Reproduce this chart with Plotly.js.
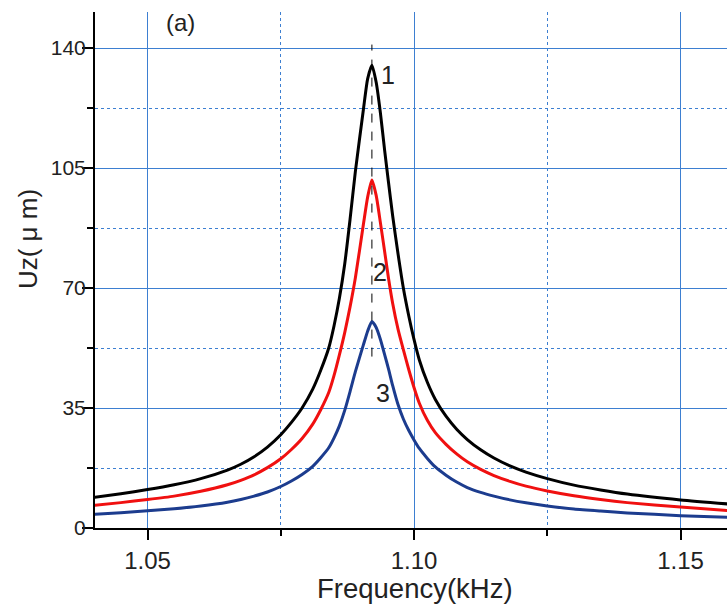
<!DOCTYPE html>
<html>
<head>
<meta charset="utf-8">
<script src="https://cdn.plot.ly/plotly-3.0.1.min.js"></script>
<style>
  html, body { margin: 0; padding: 0; background: #ffffff; }
  #chart { width: 727px; height: 606px; }
</style>
</head>
<body>
<div id="chart"></div>
<script>
// ---- data ----
const freq = [1.040, 1.045, 1.050, 1.055, 1.060, 1.065, 1.0675, 1.070, 1.0725, 1.075, 1.077, 1.079, 1.081, 1.0825, 1.084, 1.085, 1.086, 1.087, 1.088, 1.089, 1.0905, 1.0913, 1.0921, 1.0929, 1.0937, 1.0945, 1.0952, 1.096, 1.097, 1.098, 1.099, 1.100, 1.101, 1.1025, 1.104, 1.106, 1.108, 1.110, 1.1125, 1.115, 1.118, 1.121, 1.125, 1.130, 1.135, 1.140, 1.150, 1.159];
const curve1 = [8.95, 10.0, 11.2, 12.6, 14.4, 16.9, 18.6, 20.8, 23.6, 27.2, 30.8, 35.0, 40.5, 46.0, 52.5, 59.0, 67.0, 77.0, 90.0, 104.0, 122.0, 131.0, 135.0, 130.0, 121.0, 110.0, 101.0, 91.0, 80.0, 70.0, 62.0, 55.0, 49.0, 42.5, 37.5, 32.6, 28.8, 25.8, 22.8, 20.4, 18.1, 16.3, 14.4, 12.5, 11.1, 9.9, 8.2, 7.0];
const curve2 = [6.6, 7.4, 8.3, 9.3, 10.7, 12.6, 13.9, 15.5, 17.6, 20.2, 22.9, 26.1, 30.3, 34.5, 39.5, 44.5, 50.5, 57.0, 64.5, 73.0, 88.5, 96.5, 101.5, 97.0, 89.0, 80.5, 73.0, 65.5, 58.0, 52.0, 46.3, 41.0, 36.4, 31.4, 27.8, 24.4, 21.6, 19.3, 17.1, 15.3, 13.6, 12.2, 10.8, 9.4, 8.3, 7.4, 6.1, 5.1];
const curve3 = [4.0, 4.45, 5.0, 5.6, 6.4, 7.5, 8.3, 9.3, 10.5, 12.1, 13.7, 15.6, 18.0, 20.5, 23.4, 26.3, 29.8, 34.3, 39.8, 45.6, 53.4, 57.4, 60.2, 58.5, 55.0, 50.5, 46.5, 41.5, 36.0, 31.8, 28.5, 25.7, 23.2, 20.3, 17.8, 15.4, 13.4, 11.8, 10.4, 9.3, 8.2, 7.35, 6.45, 5.55, 4.95, 4.4, 3.6, 3.1];
const curveNames = ["1", "2", "3"];
const peakFreq = [1.0921];
const peakLineY = [50, 141];
const labelFreq = [1.0952, 1.0937, 1.0941];
const labelY = [132, 74.7, 39.4];
const yTicks = [0, 35, 70, 105, 140];
const yMinorTicks = [17.5, 52.5, 87.5, 122.5];
const xTicks = [1.05, 1.10, 1.15];
const xMinorTicks = [1.075, 1.125];
const xTickText = ["1.05", "1.10", "1.15"];

const gridBlue = '#3d7fd1';
const FONT = 'Liberation Sans, Arial, sans-serif';

const lineStyle = (c) => ({ color: c, width: 3, shape: 'spline', smoothing: 0.6 });
const traces = [
  { x: freq, y: curve1, name: curveNames[0], mode: 'lines', line: lineStyle('#000000') },
  { x: freq, y: curve2, name: curveNames[1], mode: 'lines', line: lineStyle('#f01010') },
  { x: freq, y: curve3, name: curveNames[2], mode: 'lines', line: lineStyle('#1c3c8e') }
];

const annotations = curveNames.map((n, i) => ({
  x: labelFreq[i], y: labelY[i], xref: 'x', yref: 'y', text: n, showarrow: false,
  font: { family: FONT, size: 25, color: '#222222' }
}));
annotations.push({
  x: 1.0561, y: 147.5, xref: 'x', yref: 'y', text: '(a)', showarrow: false,
  font: { family: FONT, size: 24, color: '#222222' }
});
annotations.push({
  x: -0.106, y: 0.56, xref: 'paper', yref: 'paper', text: 'Uz( μ m)', textangle: -90,
  showarrow: false, xanchor: 'center', yanchor: 'middle',
  font: { family: FONT, size: 26, color: '#222222' }
});
annotations.push({
  x: 0.506, y: -0.118, xref: 'paper', yref: 'paper', text: 'Frequency(kHz)',
  showarrow: false, xanchor: 'center', yanchor: 'middle',
  font: { family: FONT, size: 27.5, color: '#222222' }
});

const layout = {
  width: 727, height: 606,
  margin: { l: 95, r: 0, t: 12, b: 78 },
  paper_bgcolor: '#ffffff', plot_bgcolor: '#ffffff',
  showlegend: false,
  xaxis: {
    range: [1.04015, 1.15872],
    tickvals: xTicks, ticktext: xTickText,
    ticks: 'outside', ticklen: 10, tickwidth: 2, tickcolor: '#000000',
    showline: true, linecolor: '#000000', linewidth: 2,
    showgrid: true, gridcolor: gridBlue, gridwidth: 1,
    zeroline: false,
    tickfont: { family: FONT, size: 24, color: '#222222' },
    minor: { tickvals: xMinorTicks, ticks: 'outside', ticklen: 6, tickwidth: 2, tickcolor: '#000000',
             showgrid: true, gridcolor: gridBlue, gridwidth: 1, griddash: 'dot' }
  },
  yaxis: {
    range: [0, 150.5],
    tickvals: yTicks,
    ticks: 'outside', ticklen: 11, tickwidth: 2, tickcolor: '#000000',
    ticklabelstandoff: -8,
    showline: true, linecolor: '#000000', linewidth: 2,
    showgrid: true, gridcolor: gridBlue, gridwidth: 1,
    zeroline: false,
    tickfont: { family: FONT, size: 21, color: '#222222' },
    minor: { tickvals: yMinorTicks, ticks: 'outside', ticklen: 6, tickwidth: 2, tickcolor: '#000000',
             showgrid: true, gridcolor: gridBlue, gridwidth: 1, griddash: 'dot' }
  },
  shapes: [{
    type: 'line', xref: 'x', yref: 'y',
    x0: peakFreq[0], x1: peakFreq[0], y0: peakLineY[0], y1: peakLineY[1],
    line: { color: '#000000', width: 1, dash: 'dash' }
  }],
  annotations: annotations
};

Plotly.newPlot('chart', traces, layout, { displayModeBar: false, staticPlot: true });
</script>
</body>
</html>
